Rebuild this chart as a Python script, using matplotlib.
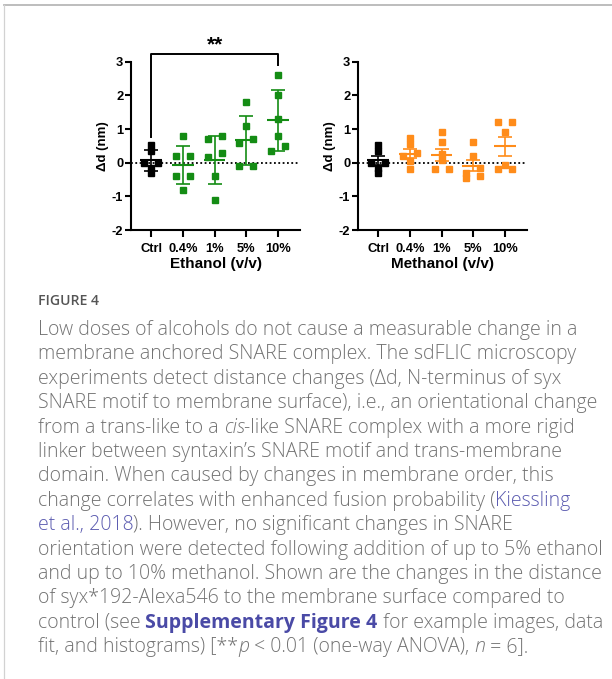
import matplotlib
matplotlib.use('Agg')
import matplotlib.pyplot as plt
from matplotlib.lines import Line2D
import numpy as np

plt.rcParams['axes.unicode_minus'] = False

# data (delta d in nm, n = 6 per group)
groups = ['Ctrl', '0.4%', '1%', '5%', '10%']
ctrl = [0.52, 0.35, 0.0, 0.0, -0.16, -0.32]
ethanol = [
    ctrl,
    [0.79, 0.2, 0.2, -0.39, -0.39, -0.81],
    [0.71, 0.79, 0.3, 0.18, -0.39, -1.1],
    [1.8, 1.09, 0.59, 0.69, -0.1, -0.1],
    [2.61, 2.0, 1.3, 0.79, 0.35, 0.49],
]
methanol = [
    ctrl,
    [0.72, 0.55, 0.3, 0.2, 0.04, -0.2],
    [0.9, 0.6, 0.25, 0.08, -0.2, -0.2],
    [0.6, 0.2, -0.3, -0.16, -0.4, -0.46],
    [1.22, 1.22, 0.92, -0.07, -0.2, -0.2],
]
yticks = [-2, -1, 0, 1, 2, 3]

W, H = 612, 679
fig = plt.figure(figsize=(W / 100, H / 100), dpi=100)
plot_font = 'Liberation Sans'


def swarm(vals, thr=0.15, d=0.22):
    # GraphPad-like: values that sit too close get pushed apart in pairs
    vals = np.asarray(vals)
    order = np.argsort(vals, kind='stable')
    offs = np.zeros(len(vals))
    i = 0
    while i < len(order):
        if i + 1 < len(order) and vals[order[i + 1]] - vals[order[i]] < thr:
            offs[order[i]] = -d
            offs[order[i + 1]] = d
            i += 2
        else:
            i += 1
    return offs


def draw_panel(ax, data, colors, xlabel, err='sd'):
    ax.axhline(0, color='black', ls=(0, (1, 1.4)), lw=1.3, zorder=1)
    for i, vals in enumerate(data):
        c = colors[i]
        v = np.asarray(vals)
        ax.plot(i + swarm(v), v, 's', color=c, mec=c, ms=4.8, zorder=2, clip_on=False)
        m = v.mean()
        e = v.std(ddof=1)
        if err == 'sem':
            e = e / np.sqrt(len(v))
        ax.vlines(i, m - e, m + e, color=c, lw=1.2, zorder=3)
        ax.hlines([m - e, m + e], i - 0.22, i + 0.22, color=c, lw=1.2, zorder=3)
        ax.hlines(m, i - 0.34, i + 0.34, color=c, lw=1.5, zorder=3)
    ax.set_xlim(-0.64, 4.7)
    ax.set_ylim(-2, 3)
    ax.set_yticks(yticks)
    ax.set_xticks(range(len(groups)))
    ax.set_xticklabels(groups)
    for s in ['top', 'right']:
        ax.spines[s].set_visible(False)
    for s in ['left', 'bottom']:
        ax.spines[s].set_linewidth(1.5)
    ax.tick_params(axis='y', length=4, width=1.5, pad=1.5)
    ax.tick_params(axis='x', length=5, width=1.5, pad=4)
    for lab in ax.get_xticklabels() + ax.get_yticklabels():
        lab.set_fontweight('bold')
        lab.set_fontsize(9.3)
        lab.set_family(plot_font)
    ax.set_xlabel(xlabel, fontsize=11, fontweight='bold', family=plot_font, labelpad=1.5)
    ax.set_ylabel('Δd (nm)', fontsize=9.5, fontweight='bold', family=plot_font, labelpad=2)


green = '#148c14'
orange = '#ff8c1a'
bot, top = 230, 61.7
ax1 = fig.add_axes([131 / W, 1 - bot / H, 169 / W, (bot - top) / H])
draw_panel(ax1, ethanol, ['black'] + [green] * 4, 'Ethanol (v/v)', err='sd')
ax2 = fig.add_axes([358 / W, 1 - bot / H, 169 / W, (bot - top) / H])
draw_panel(ax2, methanol, ['black'] + [orange] * 4, 'Methanol (v/v)', err='sem')

# significance bracket Ctrl vs 10% ethanol
ax1.plot([0, 0, 4, 4], [0.76, 3.23, 3.23, 2.9], color='black', lw=1.4, clip_on=False)
ax1.text(2, 3.22, '**', ha='center', va='bottom', fontsize=15, fontweight='bold',
         family=plot_font)

# frame of the figure box
fig.add_artist(Line2D([4 / W, 1], [1 - 5 / H] * 2, color='#b8b8b8', lw=1.3))
fig.add_artist(Line2D([4 / W] * 2, [0, 1 - 5 / H], color='#d2d2d2', lw=0.9))

# caption
grey = '#727272'
blue = '#5b5bb0'
cap_font = 'Open Sans'
x0 = 38
renderer = fig.canvas.get_renderer()


def seg_width(s, **kw):
    t1 = fig.text(0, 0, 'x' + s + 'x', **kw)
    t2 = fig.text(0, 0, 'xx', **kw)
    w = t1.get_window_extent(renderer).width - t2.get_window_extent(renderer).width
    t1.remove()
    t2.remove()
    return w


lines = [
    [('Low doses of alcohols do not cause a measurable change in a', 'n')],
    [('membrane anchored SNARE complex. The sdFLIC microscopy', 'n')],
    [('experiments detect distance changes (Δd, N-terminus of syx', 'n')],
    [('SNARE motif to membrane surface), i.e., an orientational change', 'n')],
    [('from a trans-like to a ', 'n'), ('cis', 'i'), ('-like SNARE complex with a more rigid', 'n')],
    [('linker between syntaxin’s SNARE motif and trans-membrane', 'n')],
    [('domain. When caused by changes in membrane order, this', 'n')],
    [('change correlates with enhanced fusion probability (', 'n'), ('Kiessling', 'l')],
    [('et al., 2018', 'l'), ('). However, no significant changes in SNARE', 'n')],
    [('orientation were detected following addition of up to 5% ethanol', 'n')],
    [('and up to 10% methanol. Shown are the changes in the distance', 'n')],
    [('of syx*192-Alexa546 to the membrane surface compared to', 'n')],
    [('control (see ', 'n'), ('Supplementary Figure 4', 'b'), (' for example images, data', 'n')],
    [('fit, and histograms) [**', 'n'), ('p', 'i'), (' < 0.01 (one-way ANOVA), ', 'n'),
     ('n', 'i'), (' = 6].', 'n')],
]


def style(kind, size):
    kw = dict(family=cap_font, fontsize=size, color=grey, weight='light')
    if kind == 'i':
        kw['style'] = 'italic'
    elif kind == 'l':
        kw['color'] = blue
    elif kind == 'b':
        kw['color'] = '#4a4aa6'
        kw['weight'] = 'bold'
    return kw


# size the caption so the widest line fills the box like in the original
probe = seg_width(lines[3][0][0], **style('n', 10))
cap_size = 10 * 558 / probe

fig.text(x0 / W, 1 - 305 / H, 'FIGURE 4', family=cap_font, fontsize=cap_size * 0.72,
         color='#555555', weight='semibold', va='baseline')
for k, segs in enumerate(lines):
    y = 1 - (335 + 24.4 * k) / H
    x = x0
    for s, kind in segs:
        kw = style(kind, cap_size)
        fig.text(x / W, y, s, va='baseline', **kw)
        x += seg_width(s, **kw)

fig.savefig('out.png', dpi=100)
